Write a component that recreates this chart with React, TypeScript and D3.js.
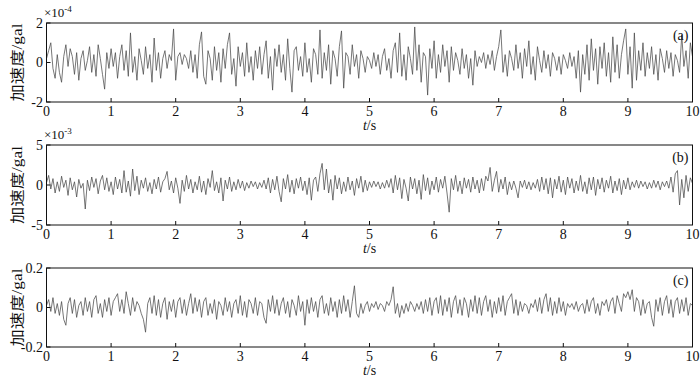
import React from "react";
import * as d3 from "d3";

// Panel (a) acceleration, units of 1e-4 gal, sampled 0..10 s
const accA = [
  0.2, 0.6, 1.0, -0.3, -0.8, 0.4, -0.5, -1.0, 0.3, 0.9,
  -0.2, 0.7, 0.3, -0.6, 0.5, -0.9, 0.2, 0.6, -0.4, 0.1,
  0.8, -0.5, 0.4, -0.7, 0.9, 0.2, -0.6, -1.35, 0.5, -0.3,
  0.7, -0.2, 0.5, -0.8, 0.3, 0.9, -0.4, 0.6, -0.7, 1.5,
  -0.5, 0.3, -0.9, 0.7, 0.1, -0.6, 0.8, -0.3, 0.4, -1.0,
  1.24, -0.4, 0.5, -0.8, 0.2, 0.6, -0.3, 0.4, 0.1, 1.7,
  -0.9, 0.3, 0.5, -0.1, 0.4, 0.2, -0.3, 0.6, -0.5, 0.4,
  -0.8, 0.9, 1.55, -0.7, -1.1, 0.6, 0.2, -0.9, 0.8, -0.4,
  0.5, -1.0, 0.7, -0.3, 0.9, 1.5, -0.6, 0.2, -1.2, 0.8,
  -0.2, 0.5, -0.7, 1.0, -0.5, 0.3, -0.9, 0.6, -0.3, 0.8,
  -0.6, 0.4, 1.1, -0.8, 0.3, -1.4, 0.7, -0.2, 0.9, -0.5,
  0.4, -0.9, 1.2, -0.3, -1.5, 0.6, 0.8, -0.4, 0.3, -0.7,
  1.0, -0.5, 0.2, -1.0, 0.7, 0.4, -0.6, 1.65, -0.8, 0.5,
  -0.4, 0.9, -1.1, 0.6, 0.2, -0.7, 0.8, 1.6, -1.3, 0.5,
  0.3, -0.6, 0.9, -0.2, 0.4, -0.8, 0.6, 0.2, -0.5, 0.3,
  0.1, -0.3, 0.5, -0.2, 0.4, -0.6, 0.3, 0.7, -0.4, 0.2,
  -0.8, 0.6, 1.0, -0.5, 1.5, -0.7, 0.4, -0.9, 0.8, 0.2,
  -0.6, 1.8, -0.4, 0.9, -1.0, 0.5, 0.3, -1.65, 0.7, -0.3,
  1.1, -0.8, 0.4, -0.5, 0.9, -0.2, 0.6, -1.0, 0.8, -0.4,
  0.5, 0.1, -0.6, 0.7, -0.3, 0.4, -0.8, 0.2, -1.15, 0.6,
  -0.2, 0.3, 0.0, 0.5, -0.3, 0.4, -0.1, 0.6, -0.4, 0.3,
  0.8, 1.65, -0.5, 0.4, -0.7, 0.6, 0.2, -0.4, 0.9, -0.3,
  0.5, -0.8, 0.7, -0.2, 1.1, -0.6, 0.3, -0.9, 0.8, 0.1,
  -0.5, 0.6, -0.3, 0.4, -0.7, 0.5, 0.2, -0.4, 0.3, -0.6,
  0.4, 0.1, -0.3, 0.5, -0.2, 0.3, -0.8, 0.6, -1.5, 0.4,
  -0.6, 0.9, -0.9, 1.2, -0.4, 0.7, -1.1, 0.8, -0.3, 1.0,
  -0.7, 0.5, -1.0, 1.3, -0.5, 0.9, -0.8, 0.4, 1.1, 1.7,
  -0.6, 0.8, -1.3, 1.5, -0.9, 0.6, -0.4, 1.0, -0.7, 0.5,
  -0.3, 0.8, -0.6, 0.4, -0.9, 0.7, 0.2, -0.5, 0.6, -0.3,
  0.5, -0.7, 0.4, 0.1, -0.5, 1.4, -0.2, 0.6, -0.8, 1.0,
  0.3,
];

// Panel (b) acceleration, units of 1e-3 gal
const accB = [
  0.3, 1.2, -0.5, 0.8, -1.0, 0.4, -0.8, 1.1, -0.3, 0.6,
  -1.3, 0.9, -0.6, 0.4, -1.5, 0.7, -0.4, 0.2, -3.0, 0.6,
  -0.7, 1.0, -0.3, 0.8, -1.1, 0.5, 1.2, -0.6, 0.9, -0.8,
  0.4, -1.2, 1.0, -0.5, 0.7, -1.0, 1.8, -0.9, 0.5, -1.4,
  2.0, -0.7, 1.1, -1.2, 0.6, -0.4, 0.9, -0.8, 0.3, -1.1,
  0.7, -0.5, 1.0, -0.9, 0.4, 0.8, 1.7, -0.6, 0.5, -1.0,
  0.9, -0.4, -2.3, 0.6, -0.8, 1.2, -0.5, 0.7, -1.0, 0.4,
  -0.6, 1.1, -0.9, 0.5, -1.2, 0.8, -0.3, 1.8, -0.7, 0.4,
  -1.0, 0.9, -2.0, 0.6, -0.5, 1.0, -0.8, 0.4, -0.6, 0.7,
  -0.4, 0.5, -0.7, 0.3, -0.4, 0.5, -0.2, 0.4, -0.5, 0.3,
  -0.3, 0.6, -0.5, 0.9, -1.0, 0.7, -0.6, 1.1, -0.8, -2.1,
  0.8, -0.5, 1.3, -0.9, 0.6, -1.1, 0.8, -0.4, 1.0, -0.7,
  0.5, -1.2, 0.9, -1.9, 0.6, 1.0, -0.8, 1.4, 2.7, -0.6,
  2.0, -1.0, 0.7, -1.9, 1.2, -0.5, 0.9, -1.1, 0.4, -0.8,
  1.0, -0.6, 0.5, -1.3, 0.8, -0.4, 1.1, -0.9, 0.6, -0.7,
  0.4, -0.3, 0.5, -0.2, 0.4, -0.5, 0.3, -0.4, 0.6, -0.3,
  0.8, -1.0, 1.2, -0.6, 0.9, -1.7, 0.7, -0.4, -2.0, 1.0,
  -0.5, 0.8, -1.1, 0.6, -1.8, 1.3, -0.7, 0.9, -1.2, 0.5,
  -0.6, 1.0, -0.9, 0.7, -0.4, 1.1, -1.0, -3.4, 0.8, -0.6,
  1.2, -0.8, 0.5, -1.1, 0.9, -0.4, 0.7, -0.9, 1.0, -0.5,
  0.6, -1.0, 0.8, -0.7, 1.1, 0.5, 2.2, -0.8, 0.6, 1.7,
  -0.9, 0.7, -0.5, 1.0, -1.2, 0.4, -0.6, 0.5, -0.4, -1.6,
  0.5, -0.3, 0.6, -0.5, 0.4, -0.6, 0.3, -0.4, 0.7, -0.8,
  1.0, -0.6, 0.8, -1.1, 0.9, -1.6, 0.7, -0.5, 1.1, -0.9,
  0.6, -1.2, 1.0, -0.4, 0.8, -1.0, 0.5, -0.7, 1.2, -0.8,
  0.4, -1.1, 0.9, -0.6, 1.0, -1.3, 0.7, -0.5, 0.9, -0.9,
  0.6, -0.4, 1.1, -1.0, 0.5, -0.7, 0.8, -1.2, 0.6, -0.5,
  0.9, -0.6, 0.4, -0.3, 0.6, -0.4, 0.5, -0.2, 0.4, -0.5,
  0.3, -0.4, 0.6, -0.3, 0.5, -0.6, 0.4, -0.2, 0.5, -0.4,
  1.0, -0.9, 1.4, 1.8, -2.5, 0.7, -1.6, 1.2, -0.8, 0.9,
  0.2,
];

// Panel (c) acceleration, gal
const accC = [
  0.01, 0.04, -0.02, 0.05, -0.03, 0.02, -0.04, 0.03, -0.06, -0.09,
  0.02, 0.05, -0.03, 0.04, -0.05, 0.01, 0.03, -0.04, 0.05, -0.02,
  0.03, -0.05, 0.04, 0.06, -0.03, 0.02, -0.05, 0.04, -0.02, 0.05,
  -0.04, 0.03, 0.05, 0.07, -0.02, 0.04, -0.03, 0.08, 0.02, -0.04,
  0.05, -0.02, 0.03, 0.01, -0.03, -0.06, -0.125, 0.02, 0.05, -0.03,
  0.06, -0.04, 0.04, -0.05, 0.02, 0.05, -0.06, 0.03, -0.02, 0.04,
  -0.05, 0.03, 0.05, -0.03, 0.04, -0.04, 0.02, 0.07, -0.03, 0.05,
  -0.02, 0.04, -0.05, 0.03, 0.05, -0.04, 0.02, -0.03, 0.04, -0.06,
  0.03, 0.01, -0.04, 0.05, -0.02, 0.03, -0.05, 0.02, 0.04, -0.03,
  0.06, -0.04, 0.03, -0.05, 0.04, 0.02, -0.03, 0.05, -0.04, 0.03,
  0.02, -0.05, -0.08, 0.04, -0.02, 0.06, -0.03, 0.04, -0.04, 0.02,
  0.05, -0.03, 0.03, -0.05, 0.04, 0.01, -0.04, 0.06, -0.02, 0.03,
  -0.09, 0.04, -0.03, 0.05, -0.02, 0.03, -0.05, 0.04, 0.06, -0.03,
  0.02, -0.04, 0.05, -0.02, 0.03, -0.05, 0.04, -0.03, 0.06, -0.02,
  0.04, -0.05, 0.03, 0.11, -0.03, -0.05, 0.02, -0.03, 0.01, 0.03,
  -0.02, 0.02, 0.0, 0.03, -0.01, 0.02, 0.01, -0.02, 0.03, 0.01,
  0.04, 0.105, -0.03, 0.02, -0.05, 0.01, -0.03, 0.02, -0.02, 0.03,
  0.01, -0.02, 0.02, -0.01, 0.03, -0.03, 0.04, -0.02, 0.05, -0.04,
  0.03, 0.05, -0.03, 0.06, -0.04, 0.04, -0.02, 0.05, -0.05, 0.03,
  0.06, -0.03, 0.04, -0.04, 0.05, 0.02, -0.05, 0.04, -0.02, 0.06,
  -0.03, 0.05, -0.04, 0.03, 0.06, -0.02, 0.04, -0.05, 0.03, -0.03,
  0.05, -0.02, 0.06, -0.04, 0.03, 0.05, 0.07, -0.03, 0.04, -0.04,
  0.03, -0.02, 0.02, 0.01, -0.03, 0.02, 0.0, 0.04, -0.02, 0.05,
  -0.03, 0.04, 0.07, -0.02, 0.05, -0.04, 0.03, -0.03, 0.05, -0.02,
  0.03, -0.04, 0.02, 0.0, 0.02, -0.01, 0.03, -0.02, 0.01, 0.02,
  -0.03, 0.04, -0.02, 0.03, 0.05, -0.03, 0.02, -0.04, 0.03, 0.01,
  0.04, -0.02, 0.03, 0.05, -0.03, 0.06, 0.02, -0.02, 0.07, 0.05,
  0.08, 0.04, 0.09, -0.02, 0.05, 0.03, -0.04, 0.04, -0.03, 0.02,
  0.03, -0.05, -0.095, 0.04, -0.02, 0.05, -0.04, 0.03, 0.06, -0.03,
  0.04, -0.05, 0.03, 0.05, -0.03, 0.04, -0.02, 0.05, -0.04, 0.02,
  0.01,
];

const xTicks = [0, 1, 2, 3, 4, 5, 6, 7, 8, 9, 10];
const yTicksA = [-2, 0, 2];
const yTicksB = [-5, 0, 5];
const yTicksC = [-0.2, 0, 0.2];
const yTickLabelsC = ["-0.2", "0", "0.2"];
const exponents = ["-4", "-3", ""];
const tags = ["(a)", "(b)", "(c)"];
const yLabel = "加速度/gal";
const xLabelVar = "t";
const xLabelUnit = "/s";

const W = 700;
const H = 383;
const LEFT = 46.5;
const RIGHT = 692.5;
const serif = "'Liberation Serif', 'Times New Roman', serif";

type Panel = {
  data: number[];
  ticks: number[];
  labels: string[];
  exp: string;
  tag: string;
  top: number;
  bottom: number;
};

const panels: Panel[] = [
  { data: accA, ticks: yTicksA, labels: yTicksA.map(String), exp: exponents[0], tag: tags[0], top: 23, bottom: 102 },
  { data: accB, ticks: yTicksB, labels: yTicksB.map(String), exp: exponents[1], tag: tags[1], top: 145, bottom: 225 },
  { data: accC, ticks: yTicksC, labels: yTickLabelsC, exp: exponents[2], tag: tags[2], top: 268, bottom: 347 },
];

const x = d3.scaleLinear().domain([0, 10]).range([LEFT, RIGHT]);

function PanelView({ p }: { p: Panel }) {
  const lo = p.ticks[0];
  const hi = p.ticks[p.ticks.length - 1];
  const y = d3.scaleLinear().domain([lo, hi]).range([p.bottom, p.top]);
  const n = p.data.length;
  const line = d3
    .line<number>()
    .x((_, i) => x((i * 10) / (n - 1)))
    .y((d) => y(d));
  const mid = (p.top + p.bottom) / 2;
  return (
    <g>
      <path d={line(p.data) || ""} fill="none" stroke="#4a4a4a" strokeWidth={0.75} />
      <rect x={LEFT} y={p.top} width={RIGHT - LEFT} height={p.bottom - p.top} fill="none" stroke="#111" strokeWidth={1} />
      {xTicks.map((t) => (
        <g key={t}>
          <line x1={x(t)} x2={x(t)} y1={p.bottom} y2={p.bottom - 4} stroke="#111" strokeWidth={1} />
          <text x={x(t)} y={p.bottom + 14} textAnchor="middle" fontFamily={serif} fontSize={14} fill="#111">
            {t}
          </text>
        </g>
      ))}
      {p.ticks.map((t, i) => (
        <g key={t}>
          <line x1={LEFT} x2={LEFT + 4} y1={y(t)} y2={y(t)} stroke="#111" strokeWidth={1} />
          <text x={43} y={y(t)} dy="0.35em" textAnchor="end" fontFamily={serif} fontSize={14} fill="#111">
            {p.labels[i]}
          </text>
        </g>
      ))}
      {p.exp && (
        <text x={44} y={p.top - 6} fontFamily={serif} fontSize={13} fill="#111">
          ×10
          <tspan fontSize={9} dy={-5}>
            {p.exp}
          </tspan>
        </text>
      )}
      <text x={RIGHT - 4} y={p.top + 17} textAnchor="end" fontFamily={serif} fontSize={14} fill="#111">
        {p.tag}
      </text>
      <text
        transform={`translate(17,${mid}) rotate(-90)`}
        textAnchor="middle"
        dy="0.35em"
        fontFamily={`${serif}, 'Noto Sans CJK SC'`}
        fontSize={14}
        textLength={78}
        lengthAdjust="spacingAndGlyphs"
        fill="#111"
      >
        {yLabel}
      </text>
      <text x={(LEFT + RIGHT) / 2} y={p.bottom + 28} textAnchor="middle" fontFamily={serif} fontSize={14} fill="#111">
        <tspan fontStyle="italic">{xLabelVar}</tspan>
        {xLabelUnit}
      </text>
    </g>
  );
}

export default function App() {
  return (
    <svg
      width={W}
      height={H}
      viewBox={`0 0 ${W} ${H}`}
      style={{ position: "absolute", left: 0, top: 0, background: "#fff" }}
    >
      <rect width={W} height={H} fill="#fff" />
      {panels.map((p, i) => (
        <PanelView key={i} p={p} />
      ))}
    </svg>
  );
}
